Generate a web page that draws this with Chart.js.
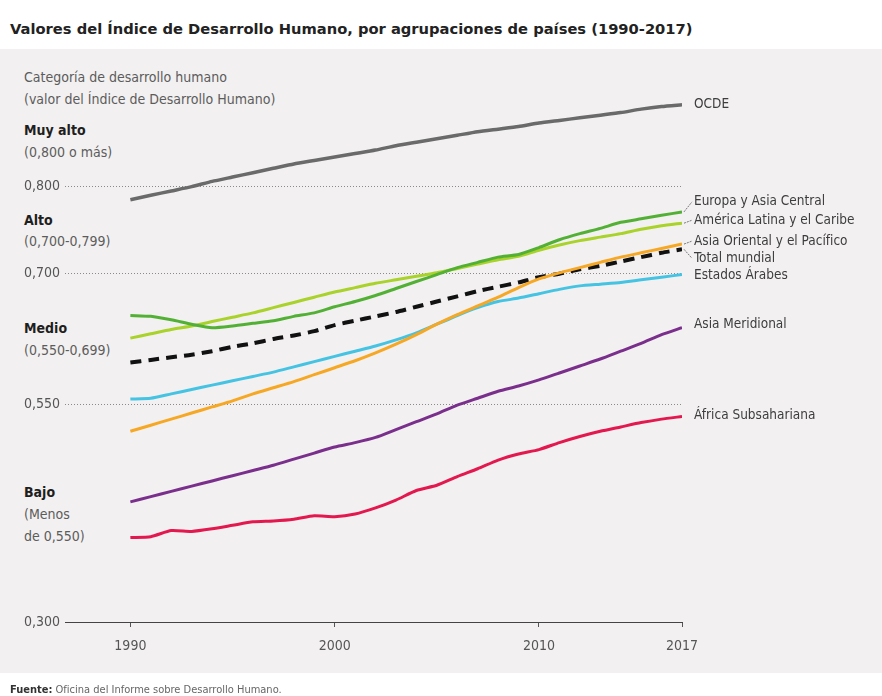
<!DOCTYPE html>
<html lang="es">
<head>
<meta charset="utf-8">
<title>Valores del Índice de Desarrollo Humano</title>
<script src="https://cdn.jsdelivr.net/npm/chart.js@4.4.1/dist/chart.umd.min.js"></script>
<style>
  html, body { margin: 0; padding: 0; background: #fff; }
  #page { position: relative; width: 882px; height: 696px; overflow: hidden;
          font-family: "Liberation Sans Narrow", "DejaVu Sans Condensed", "Arial Narrow", sans-serif; }
  #panel { position: absolute; left: 0; top: 49px; width: 882px; height: 624px; background: #f2f0f0; }
  #title { position: absolute; left: 10px; top: 20px; font: bold 14.7px "DejaVu Sans", "Liberation Sans", sans-serif;
           color: #222; white-space: nowrap; }
  .cat { position: absolute; left: 24px; font-size: 14px; line-height: 22px; color: #5c5c5c; white-space: nowrap; }
  .cat.b { color: #1e1e1e; font-weight: bold; font-size: 14px; }
  #chart { position: absolute; left: 0; top: 0; }
  #fuente { position: absolute; left: 10px; top: 683px; font-size: 11px; color: #666; white-space: nowrap; }
  #fuente b { color: #333; }
</style>
</head>
<body>
<div id="page">
  <div id="panel"></div>
  <div id="title">Valores del Índice de Desarrollo Humano, por agrupaciones de países (1990-2017)</div>

  <div class="cat" style="top:66px">Categoría de desarrollo humano</div>
  <div class="cat" style="top:88px">(valor del Índice de Desarrollo Humano)</div>
  <div class="cat b" style="top:119px">Muy alto</div>
  <div class="cat" style="top:141px">(0,800 o más)</div>
  <div class="cat b" style="top:209px">Alto</div>
  <div class="cat" style="top:230px">(0,700-0,799)</div>
  <div class="cat b" style="top:317px">Medio</div>
  <div class="cat" style="top:339px">(0,550-0,699)</div>
  <div class="cat b" style="top:481px">Bajo</div>
  <div class="cat" style="top:503px">(Menos</div>
  <div class="cat" style="top:525px">de 0,550)</div>

  <canvas id="chart" width="882" height="696"></canvas>
  <div id="fuente"><b>Fuente:</b> Oficina del Informe sobre Desarrollo Humano.</div>
</div>

<script>
const NARROW = '"Liberation Sans Narrow", "DejaVu Sans Condensed", "Arial Narrow", sans-serif';

const years = [1990, 1991, 1992, 1993, 1994, 1995, 1996, 1997, 1998, 1999,
               2000, 2001, 2002, 2003, 2004, 2005, 2006, 2007, 2008, 2009,
               2010, 2011, 2012, 2013, 2014, 2015, 2016, 2017];

const ocde = [0.785, 0.790, 0.795, 0.800, 0.806, 0.811, 0.816, 0.821, 0.826, 0.830,
              0.834, 0.838, 0.842, 0.847, 0.851, 0.855, 0.859, 0.863, 0.866, 0.869,
              0.873, 0.876, 0.879, 0.882, 0.885, 0.889, 0.892, 0.894];
const europaAsiaCentral = [0.652, 0.651, 0.647, 0.642, 0.638, 0.640, 0.643, 0.646, 0.651, 0.655,
              0.662, 0.668, 0.675, 0.683, 0.691, 0.699, 0.707, 0.713, 0.719, 0.722,
              0.730, 0.739, 0.746, 0.752, 0.759, 0.763, 0.767, 0.771];
const americaLatina = [0.626, 0.631, 0.636, 0.640, 0.645, 0.650, 0.655, 0.661, 0.667, 0.673,
              0.679, 0.684, 0.689, 0.693, 0.697, 0.701, 0.706, 0.711, 0.716, 0.720,
              0.727, 0.733, 0.738, 0.742, 0.746, 0.751, 0.755, 0.758];
const asiaOriental = [0.519, 0.526, 0.533, 0.540, 0.547, 0.554, 0.562, 0.569, 0.576, 0.584,
              0.592, 0.600, 0.609, 0.619, 0.630, 0.642, 0.653, 0.663, 0.673, 0.684,
              0.694, 0.701, 0.707, 0.713, 0.719, 0.724, 0.729, 0.734];
const totalMundial = [0.598, 0.601, 0.604, 0.607, 0.611, 0.616, 0.620, 0.625, 0.629, 0.634,
              0.641, 0.646, 0.651, 0.656, 0.662, 0.668, 0.674, 0.680, 0.685, 0.690,
              0.696, 0.700, 0.705, 0.709, 0.714, 0.719, 0.724, 0.728];
const estadosArabes = [0.556, 0.557, 0.562, 0.567, 0.572, 0.577, 0.582, 0.587, 0.593, 0.599,
              0.605, 0.611, 0.617, 0.624, 0.632, 0.642, 0.652, 0.661, 0.668, 0.672,
              0.677, 0.682, 0.686, 0.688, 0.690, 0.693, 0.696, 0.699];
const asiaMeridional = [0.438, 0.444, 0.450, 0.456, 0.462, 0.468, 0.474, 0.480, 0.487, 0.494,
              0.501, 0.506, 0.512, 0.521, 0.530, 0.539, 0.549, 0.557, 0.565, 0.571,
              0.578, 0.586, 0.594, 0.602, 0.611, 0.620, 0.630, 0.638];
const africaSubsahariana = [0.397, 0.398, 0.405, 0.404, 0.407, 0.411, 0.415, 0.416, 0.418, 0.422,
              0.421, 0.424, 0.431, 0.440, 0.451, 0.457, 0.467, 0.476, 0.486, 0.493,
              0.498, 0.506, 0.513, 0.519, 0.524, 0.529, 0.533, 0.536];

const xTicks = [1990, 2000, 2010, 2017];
const yTicks = [0.300, 0.550, 0.700, 0.800];

const seriesNames = ["OCDE", "Europa y Asia Central", "América Latina y el Caribe",
                     "Asia Oriental y el Pacífico", "Total mundial", "Estados Árabes",
                     "Asia Meridional", "África Subsahariana"];
const seriesValues = [ocde, europaAsiaCentral, americaLatina, asiaOriental,
                      totalMundial, estadosArabes, asiaMeridional, africaSubsahariana];
const seriesColors = ["#6a6a6a", "#52b134", "#a9d22a", "#f6a824",
                      "#111111", "#45c3e3", "#7a2f8c", "#e3184f"];
// label placement next to the last point (pixels), and whether a little leader is drawn
const labelShift = [0, -10, -3, -3, 9, 1, -3, -1];
const hasLeader = [false, true, true, true, true, false, false, false];

const endLabels = {
    id: "endLabels",
    afterDatasetsDraw(chart) {
        const { ctx, scales: { x, y } } = chart;
        ctx.save();
        ctx.font = "13.5px " + NARROW;
        ctx.fillStyle = "#3d3d3d";
        ctx.textBaseline = "middle";
        chart.data.datasets.forEach((ds, i) => {
            const last = ds.data[ds.data.length - 1];
            const px = x.getPixelForValue(last.x);
            const py = y.getPixelForValue(last.y);
            const ly = py + labelShift[i];
            if (hasLeader[i]) {
                ctx.beginPath();
                ctx.strokeStyle = "#777";
                ctx.lineWidth = 1;
                ctx.setLineDash([2, 1]);
                ctx.moveTo(px + 2, py);
                ctx.lineTo(px + 10, ly);
                ctx.stroke();
                ctx.setLineDash([]);
            }
            ctx.fillText(ds.label, px + 12, ly);
        });
        ctx.restore();
    }
};

const datasets = seriesNames.map((name, i) => ({
    label: name,
    data: years.map((yr, j) => ({ x: yr, y: seriesValues[i][j] })),
    borderColor: seriesColors[i],
    borderWidth: i === 4 ? 4 : (i === 0 ? 3.5 : 3),
    borderDash: i === 4 ? [11, 7] : [],
    pointRadius: 0,
    tension: 0.2,
    fill: false
}));

new Chart(document.getElementById("chart").getContext("2d"), {
    type: "line",
    data: { datasets },
    options: {
        responsive: false,
        animation: false,
        layout: { padding: { top: 56, right: 200, bottom: 34, left: 0 } },
        plugins: {
            legend: { display: false },
            tooltip: { enabled: false }
        },
        scales: {
            x: {
                type: "linear",
                min: 1986.8,
                max: 2017,
                afterFit(scale) { scale.height = 40; },
                afterBuildTicks(scale) { scale.ticks = xTicks.map(v => ({ value: v })); },
                grid: { drawOnChartArea: false, drawTicks: true, tickLength: 5, color: "#555" },
                border: { display: true, color: "#444", width: 1 },
                ticks: {
                    padding: 11,
                    color: "#555",
                    font: { family: NARROW, size: 14 },
                    callback: v => String(v)
                }
            },
            y: {
                min: 0.3,
                max: 0.95,
                afterFit(scale) { scale.width = 65; },
                afterBuildTicks(scale) { scale.ticks = yTicks.map(v => ({ value: v })); },
                grid: {
                    drawTicks: false,
                    color: ctx => (ctx.tick && ctx.tick.value === 0.3 ? "rgba(0,0,0,0)" : "#8a8a8a"),
                    lineWidth: 1
                },
                border: { display: false, dash: [1, 2] },
                ticks: {
                    padding: 5,
                    color: "#555",
                    font: { family: NARROW, size: 14 },
                    callback: v => v.toFixed(3).replace(".", ",")
                }
            }
        }
    },
    plugins: [endLabels]
});
</script>
</body>
</html>
